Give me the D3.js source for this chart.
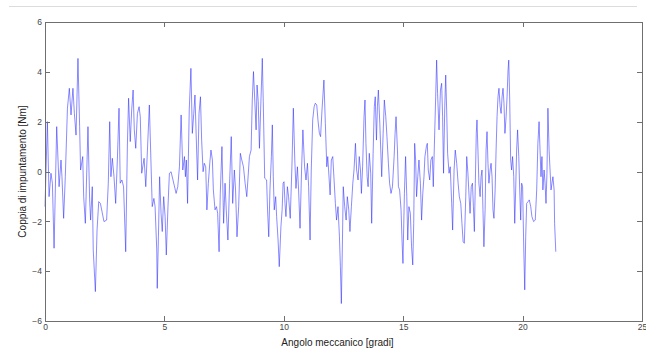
<!DOCTYPE html>
<html>
<head>
<meta charset="utf-8">
<script src="https://cdn.jsdelivr.net/npm/d3@7"></script>
<style>
body { margin: 0; background: #fff; }
svg { display: block; }
text { font-family: "Liberation Sans", Arial, sans-serif; }
</style>
</head>
<body>
<svg id="chart" width="646" height="352"></svg>
<script>
var xTicks = [0, 5, 10, 15, 20, 25];
var yTicks = [-6, -4, -2, 0, 2, 4, 6];
var xLabel = "Angolo meccanico [gradi]";
var yLabel = "Coppia di impuntamento [Nm]";

// [angolo (gradi), coppia (Nm)]
var campioni = [
  [0, -1.41], [0.10, 2.00], [0.17, -1.01], [0.25, -0.07], [0.31, -0.47], [0.38, -3.08],
  [0.49, 1.80], [0.59, -0.61], [0.67, 0.46], [0.71, -0.21], [0.78, -1.88], [0.85, -0.21],
  [0.94, 2.54], [1.02, 3.34], [1.09, 2.27], [1.17, 3.34], [1.23, 2.33], [1.30, 1.46],
  [1.38, 4.54], [1.45, 1.80], [1.49, 0.06], [1.58, 0.60], [1.62, -1.01], [1.69, -2.08],
  [1.80, 1.80], [1.87, -1.14], [1.91, -1.95], [1.98, -0.61], [2.02, -3.15], [2.11, -4.82],
  [2.18, -2.35], [2.25, -1.21], [2.32, -1.28], [2.47, -2.01], [2.58, -1.95], [2.65, -0.47],
  [2.71, 2.00], [2.76, -0.21], [2.82, 0.53], [2.89, -0.21], [2.96, -1.28], [3.03, 0.46],
  [3.10, 2.54], [3.15, -0.47], [3.22, -0.34], [3.29, -0.61], [3.38, -3.22], [3.45, 1.06],
  [3.50, 2.94], [3.57, 1.20], [3.63, 2.47], [3.69, 3.27], [3.74, 1.67], [3.80, 0.93],
  [3.87, 2.33], [3.94, 2.60], [3.99, 2.20], [4.05, -0.07], [4.15, 0.53], [4.22, -0.61],
  [4.29, 0.86], [4.37, 2.67],
  [4.49, -1.41], [4.56, -1.08], [4.61, -1.41], [4.68, -3.15], [4.70, -4.69], [4.75, -2.62],
  [4.80, -0.21], [4.86, -1.68], [4.91, -2.41], [4.97, -1.01], [5.03, -1.81], [5.08, -3.35],
  [5.15, -1.41], [5.21, -0.07], [5.28, -0.01], [5.36, -0.34], [5.49, -0.88], [5.56, -0.61],
  [5.63, 0.19], [5.70, 2.27], [5.77, 0.06], [5.84, 0.60], [5.88, -0.21], [5.92, 0.46],
  [5.97, -1.28], [6.04, 2.47], [6.11, 4.14], [6.17, 1.53], [6.23, 2.33], [6.28, 3.07],
  [6.35, 0.86], [6.39, -0.34], [6.45, 2.33], [6.51, 3.00], [6.56, 1.26], [6.62, -0.01],
  [6.67, 0.33], [6.73, 0.19], [6.78, -1.54], [6.84, -0.47], [6.90, 0.33], [6.95, 0.86],
  [7.01, 0.46], [7.05, -0.74], [7.12, -1.54], [7.18, -1.41], [7.23, -1.68], [7.29, -3.22],
  [7.34, -0.88], [7.41, 1.00], [7.48, -2.08], [7.54, -0.47], [7.59, -1.54], [7.66, -2.75],
  [7.73, -0.47], [7.80, 1.40], [7.86, -1.28], [7.93, 0.06], [7.98, -0.74], [8.04, -2.62],
  [8.11, -1.41], [8.18, 0.73], [8.24, 0.46], [8.31, 0.19], [8.38, -0.47], [8.45, -1.01],
  [8.56, 0.60], [8.63, 0.86], [8.68, 2.87], [8.73, 4.01],
  [8.84, 1.67], [8.88, 3.47], [8.93, 2.80], [8.98, 0.93], [9.03, 2.47], [9.10, 4.54],
  [9.14, 2.80], [9.20, -0.27], [9.28, -0.34], [9.32, -1.54], [9.37, -2.62], [9.42, -0.74],
  [9.48, 0.60], [9.52, 1.87], [9.56, -0.21], [9.60, -1.54], [9.66, -1.01], [9.70, -1.81],
  [9.76, -2.75], [9.81, -3.82], [9.88, -2.21], [9.93, -1.54], [9.97, -0.47], [10.01, -0.41],
  [10.05, -1.28], [10.09, -1.81], [10.15, -0.61], [10.20, -1.01], [10.27, -1.88], [10.34, 0.19],
  [10.40, 2.54], [10.46, 0.46], [10.51, -0.68], [10.57, 0.19], [10.62, -0.74], [10.68, -2.28],
  [10.75, 0.26], [10.80, 1.67], [10.87, 0.19], [10.93, -0.34], [10.99, 0.33], [11.04, -0.61],
  [11.10, -2.75], [11.15, 0.06], [11.21, 2.07], [11.27, 2.60], [11.32, 2.74], [11.38, 2.67],
  [11.43, 2.07], [11.49, 1.53], [11.54, 1.40], [11.60, 2.47], [11.68, 3.67], [11.74, 1.93],
  [11.80, 0.19], [11.84, 0.60], [11.94, -0.94], [11.99, 0.46], [12.05, 0.60], [12.16, -1.28],
  [12.21, -1.95], [12.27, -1.41], [12.33, -2.62], [12.37, -3.82], [12.41, -5.30], [12.45, -3.15],
  [12.49, -0.61], [12.55, -1.41], [12.61, -1.95], [12.66, -1.01], [12.72, -1.54], [12.77, -2.41],
  [12.83, -1.41], [12.89, -0.47], [12.94, 0.06], [13.00, 1.13], [13.05, 0.06], [13.11, -0.34],
  [13.16, 0.60],
  [13.21, 0.06], [13.25, -0.88], [13.30, 0.19], [13.36, 2.20], [13.40, 2.87], [13.44, 1.13],
  [13.49, -0.21], [13.53, -0.61], [13.58, 0.73], [13.64, -0.07], [13.68, -2.08], [13.74, 0.73],
  [13.79, 2.60], [13.83, 3.00], [13.88, 1.26], [13.92, 2.60], [13.96, 3.27], [14.02, 1.93],
  [14.06, 0.86], [14.10, -0.21], [14.16, 1.53], [14.21, 2.87], [14.27, 2.20], [14.32, 1.40],
  [14.38, 0.33], [14.43, -0.47], [14.49, -0.88], [14.55, -0.61], [14.62, 0.60], [14.66, 1.53],
  [14.70, 2.20], [14.76, 0.86], [14.80, -0.61], [14.85, -0.74], [14.91, -1.54], [14.95, -2.75],
  [14.99, -3.69], [15.05, -0.88], [15.10, 0.60], [15.15, -1.01], [15.19, -2.75], [15.24, -1.41],
  [15.30, -1.68], [15.35, -3.02], [15.40, -3.75], [15.44, -2.08], [15.48, 1.13], [15.52, 0.46],
  [15.56, -1.01], [15.61, -0.21], [15.66, 0.46], [15.72, -0.47], [15.77, -1.95], [15.82, -0.88],
  [15.87, -0.21], [15.91, 0.60], [15.97, 1.00], [16.01, 1.13], [16.05, 0.06], [16.11, -0.34],
  [16.16, 0.46], [16.22, 0.60], [16.26, -0.61], [16.30, 0.86], [16.36, 3.00], [16.40, 4.47],
  [16.44, 3.13], [16.50, 1.67], [16.56, 3.27], [16.61, 3.54], [16.65, 2.20], [16.69, -0.07],
  [16.74, 2.60], [16.78, 3.87], [16.82, 2.47], [16.86, 0.73], [16.92, -0.07], [16.97, 0.19],
  [17.03, -1.28], [17.07, -2.35], [17.13, 0.06], [17.18, 0.86], [17.24, 0.33], [17.30, -0.47],
  [17.35, -1.01], [17.41, -1.28], [17.46, -2.08], [17.51, -2.82],
  [17.56, -2.88], [17.62, -1.01], [17.66, 0.60], [17.71, -0.07], [17.76, -1.01], [17.80, -1.68],
  [17.85, -0.61], [17.90, -0.47], [17.94, -1.41], [17.98, -2.41], [18.02, -0.47], [18.06, 1.53],
  [18.09, 2.07], [18.13, 0.86], [18.17, -0.47], [18.22, -1.01], [18.26, -0.21], [18.30, 0.06],
  [18.34, -1.54], [18.38, -3.02], [18.43, -1.54], [18.47, 0.86], [18.51, 1.60], [18.55, 0.33],
  [18.59, -0.47], [18.64, 0.06], [18.68, 0.33], [18.72, -0.21], [18.76, -1.54], [18.80, -1.88],
  [18.85, -0.74], [18.89, 0.86], [18.93, 2.20], [18.97, 3.00], [19.01, 3.34], [19.06, 2.60],
  [19.10, 2.33], [19.14, 3.00], [19.18, 3.34], [19.22, 2.74], [19.26, 1.53], [19.31, 2.20],
  [19.35, 3.00], [19.39, 4.07], [19.42, 4.47], [19.46, 2.87], [19.50, 0.46], [19.54, 0.06],
  [19.58, 0.60], [19.63, -0.21], [19.67, -2.08], [19.71, -0.74], [19.75, 0.86], [19.79, 1.67],
  [19.84, 0.60], [19.88, -0.74], [19.92, -1.95], [19.96, -0.47], [20.00, -0.61], [20.05, -3.15],
  [20.09, -4.75], [20.13, -2.62], [20.17, -1.28], [20.23, -1.21], [20.28, -1.14], [20.34, -1.41],
  [20.39, -1.81], [20.46, -2.01], [20.53, -1.95], [20.59, -0.74], [20.64, 1.13], [20.69, 2.00],
  [20.73, 0.86], [20.77, -0.21], [20.81, 0.60], [20.85, -0.74], [20.90, 0.06], [20.94, -0.47],
  [20.98, -1.28], [21.02, -0.07], [21.06, 2.54], [21.11, 0.86], [21.15, 0.06], [21.19, -0.74],
  [21.23, -0.47], [21.27, -0.21], [21.32, -0.74], [21.34, -2.08], [21.39, -3.22]
];

var svg = d3.select("#chart");
// plot box edges, in pixels
var boxLeft = 45, boxRight = 642, boxTop = 22, boxBottom = 321;

var x = d3.scaleLinear().domain([0, 25]).range([boxLeft, boxRight]);
var y = d3.scaleLinear().domain([-6, 6]).range([boxBottom, boxTop]);

// light frame line at the very top of the figure
svg.append("line")
  .attr("x1", 9).attr("x2", 637)
  .attr("y1", 6.5).attr("y2", 6.5)
  .attr("stroke", "#dcdcdc").attr("stroke-width", 1);

svg.append("path")
  .datum(campioni)
  .attr("fill", "none")
  .attr("stroke", "#2a2aff")
  .attr("stroke-width", 0.55)
  .attr("stroke-linejoin", "round")
  .attr("d", d3.line()
    .x(function(d) { return x(d[0]); })
    .y(function(d) { return y(d[1]); }));

function styleAxis(g) {
  g.selectAll(".domain").attr("stroke", "#6f6f6f");
  g.selectAll(".tick line").attr("stroke", "#6f6f6f");
  g.selectAll(".tick text").attr("fill", "#444").style("font-size", "8.5px");
  g.attr("shape-rendering", "crispEdges");
}

svg.append("g")
  .attr("transform", "translate(0," + boxBottom + ")")
  .call(d3.axisBottom(x).tickValues(xTicks).tickSizeInner(-5).tickSizeOuter(0).tickPadding(3))
  .call(styleAxis);

svg.append("g")
  .attr("transform", "translate(0," + boxTop + ")")
  .call(d3.axisTop(x).tickValues(xTicks).tickSizeInner(-5).tickSizeOuter(0).tickFormat(""))
  .call(styleAxis);

svg.append("g")
  .attr("transform", "translate(" + boxLeft + ",0)")
  .call(d3.axisLeft(y).tickValues(yTicks).tickSizeInner(-5).tickSizeOuter(0).tickPadding(3))
  .call(styleAxis);

svg.append("g")
  .attr("transform", "translate(" + boxRight + ",0)")
  .call(d3.axisRight(y).tickValues(yTicks).tickSizeInner(-5).tickSizeOuter(0).tickFormat(""))
  .call(styleAxis);

svg.append("text")
  .attr("x", (boxLeft + boxRight) / 2 - 6)
  .attr("y", 346)
  .attr("text-anchor", "middle")
  .attr("fill", "#222")
  .style("font-size", "10px")
  .text(xLabel);

svg.append("text")
  .attr("transform", "translate(26," + y(0) + ") rotate(-90)")
  .attr("text-anchor", "middle")
  .attr("fill", "#222")
  .style("font-size", "10px")
  .text(yLabel);
</script>
</body>
</html>
